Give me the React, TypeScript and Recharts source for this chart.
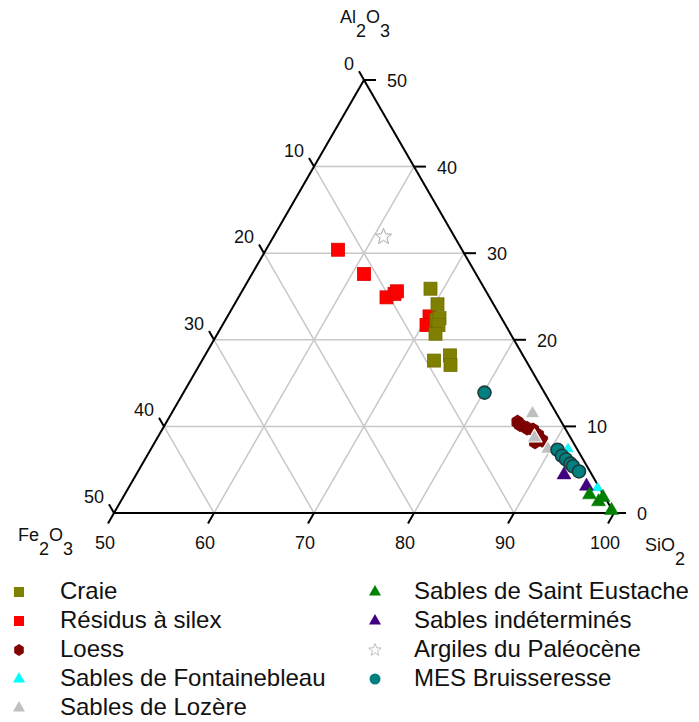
import React from "react";
import { ScatterChart, Scatter, XAxis, YAxis, ReferenceLine } from "recharts";

// ─── DATA ─────────────────────────────────────────────────────────────────────
// each point is [SiO2, Al2O3] in %, Fe2O3 is the remainder (100 - SiO2 - Al2O3)

const CRAIE = [
    [68.7, 25.9], [70.3, 24.1], [71.1, 22.3], [71.3, 22.5], [71.6, 21.7],
    [71.8, 20.7], [73.2, 17.6], [74.5, 18.2], [75.1, 17.1],
];
const RESIDUS = [
    [57.2, 30.4], [61.2, 27.6], [64.8, 24.9], [65.4, 25.3], [65.5, 25.6],
    [70.2, 22.7], [70.4, 21.7],
];
const LOESS = [
    [85.1, 10.5], [85.5, 10.2], [86.4, 9.8], [87.1, 9.6], [87.9, 9.0],
    [88.6, 8.4], [88.0, 8.2],
];
const FONTAINEBLEAU = [[91.7, 7.4], [96.9, 2.9]];
const LOZERE = [[86.1, 11.5], [87.7, 8.7], [89.7, 7.4]];
const SAINT_EUSTACHE = [[96.5, 2.1], [97.8, 1.3], [98.0, 1.8], [99.6, 0.3]];
const INDETERMINES = [[92.8, 4.4], [95.7, 3.1]];
const ARGILES = [[61.0, 31.9]];
const MES = [
    [80.1, 13.9], [90.7, 7.3], [91.5, 6.6], [92.1, 6.2], [92.8, 5.7],
    [93.2, 5.4], [94.1, 4.8],
];

const SIO2_TICKS = [50, 60, 70, 80, 90, 100];
const AL2O3_TICKS = [0, 10, 20, 30, 40, 50];
const FE2O3_TICKS = [0, 10, 20, 30, 40, 50];
const GRID_STEPS = [10, 20, 30, 40];

// ─── TERNARY PROJECTION ───────────────────────────────────────────────────────
// bottom-left = SiO2 50 / Fe2O3 50, bottom-right = SiO2 100, apex = Al2O3 50

const H = Math.sqrt(3) / 2;
const project = (sio2: number, al2o3: number) => ({ x: sio2 - 50 + al2o3 / 2, y: al2o3 * H });
const toRows = (pts: number[][]) =>
    pts.map(([s, a]) => ({ ...project(s, a), sio2: s, al2o3: a, fe2o3: +(100 - s - a).toFixed(1) }));

const FONT = "'Liberation Sans', Arial, Helvetica, sans-serif";

// ─── MARKERS ──────────────────────────────────────────────────────────────────

type Kind = "square" | "triangle" | "hexagon" | "circle" | "star";

function markerEl(kind: Kind, cx: number, cy: number, size: number, fill: string, stroke: string, sw: number) {
    const r = size / 2;
    if (kind === "square") {
        return <rect x={cx - r} y={cy - r} width={size} height={size} fill={fill} stroke={stroke} strokeWidth={sw} />;
    }
    if (kind === "circle") {
        return <circle cx={cx} cy={cy} r={r} fill={fill} stroke={stroke} strokeWidth={sw} />;
    }
    if (kind === "triangle") {
        const h = size * H;
        const pts = `${cx},${cy - (h * 2) / 3} ${cx - r},${cy + h / 3} ${cx + r},${cy + h / 3}`;
        return <polygon points={pts} fill={fill} stroke={stroke} strokeWidth={sw} strokeLinejoin="round" />;
    }
    if (kind === "hexagon") {
        const pts = [0, 1, 2, 3, 4, 5]
            .map((i) => {
                const ang = (Math.PI / 3) * i - Math.PI / 2;
                return `${cx + r * 0.92 * Math.cos(ang)},${cy + r * Math.sin(ang)}`;
            })
            .join(" ");
        return <polygon points={pts} fill={fill} stroke={stroke} strokeWidth={sw} />;
    }
    // star
    const pts = Array.from({ length: 10 }, (_, i) => {
        const rr = i % 2 === 0 ? r : r * 0.42;
        const ang = (Math.PI / 5) * i - Math.PI / 2;
        return `${cx + rr * Math.cos(ang)},${cy + rr * Math.sin(ang)}`;
    }).join(" ");
    return <polygon points={pts} fill={fill} stroke={stroke} strokeWidth={sw} strokeLinejoin="round" />;
}

interface SeriesDef {
    name: string;
    data: number[][];
    kind: Kind;
    fill: string;
    stroke: string;
    sw: number;
    size: number;
    legendSize: number;
}

const SERIES: Record<string, SeriesDef> = {
    craie: { name: "Craie", data: CRAIE, kind: "square", fill: "#808000", stroke: "#6e6e00", sw: 0.8, size: 13, legendSize: 10 },
    residus: { name: "Résidus à silex", data: RESIDUS, kind: "square", fill: "#ff0000", stroke: "#e00000", sw: 0.8, size: 13, legendSize: 10 },
    loess: { name: "Loess", data: LOESS, kind: "hexagon", fill: "#800000", stroke: "#6a0000", sw: 0.8, size: 14, legendSize: 12 },
    fontainebleau: { name: "Sables de Fontainebleau", data: FONTAINEBLEAU, kind: "triangle", fill: "#00ffff", stroke: "#00e0e0", sw: 0.5, size: 10, legendSize: 12 },
    lozere: { name: "Sables de Lozère", data: LOZERE, kind: "triangle", fill: "#c0c0c0", stroke: "#ffffff", sw: 1.2, size: 15, legendSize: 12 },
    eustache: { name: "Sables de Saint Eustache", data: SAINT_EUSTACHE, kind: "triangle", fill: "#008000", stroke: "#007000", sw: 0.5, size: 14, legendSize: 12 },
    indetermines: { name: "Sables indéterminés", data: INDETERMINES, kind: "triangle", fill: "#400080", stroke: "#350070", sw: 0.5, size: 14, legendSize: 12 },
    argiles: { name: "Argiles du Paléocène", data: ARGILES, kind: "star", fill: "#ffffff", stroke: "#a8a8a8", sw: 1, size: 17, legendSize: 13 },
    mes: { name: "MES Bruisseresse", data: MES, kind: "circle", fill: "#008080", stroke: "#1c3c3c", sw: 1.6, size: 13, legendSize: 11 },
};

const DRAW_ORDER = ["residus", "craie", "loess", "lozere", "fontainebleau", "indetermines", "eustache", "argiles", "mes"];
const LEGEND_COL1 = ["craie", "residus", "loess", "fontainebleau", "lozere"];
const LEGEND_COL2 = ["eustache", "indetermines", "argiles", "mes"];

// ─── GRID + AXES GEOMETRY ─────────────────────────────────────────────────────

const EDGES = [
    [project(50, 0), project(100, 0)],
    [project(50, 0), project(50, 50)],
    [project(100, 0), project(50, 50)],
];

const GRID = GRID_STEPS.flatMap((k) => [
    // constant Al2O3
    [project(50, k), project(100 - k, k)],
    // constant SiO2
    [project(50 + k, 0), project(50 + k, 50 - k)],
    // constant Fe2O3
    [project(50, 50 - k), project(100 - k, 0)],
]);

const TICKS = [
    ...SIO2_TICKS.map((s) => {
        const p = project(s, 0);
        return [p, { x: p.x - 0.6, y: p.y - 1.04 }];
    }),
    ...FE2O3_TICKS.map((f) => {
        const p = project(50, 50 - f);
        return [p, { x: p.x - 0.5, y: p.y + 0.87 }];
    }),
    ...AL2O3_TICKS.map((a) => {
        const p = project(100 - a, a);
        return [p, { x: p.x + 1.2, y: p.y }];
    }),
];

const BOTTOM_LABELS = SIO2_TICKS.map((s) => ({ ...project(s, 0), text: String(s) }));
const LEFT_LABELS = FE2O3_TICKS.map((f) => ({ ...project(50, 50 - f), text: String(f) }));
const RIGHT_LABELS = AL2O3_TICKS.map((a) => ({ ...project(100 - a, a), text: String(a) }));

const TITLES = [
    { ...project(50, 50), main1: "Al", sub1: "2", main2: "O", sub2: "3", dx: -24, dy: -57 },
    { ...project(50, 0), main1: "Fe", sub1: "2", main2: "O", sub2: "3", dx: -96, dy: 28 },
    { ...project(100, 0), main1: "SiO", sub1: "2", main2: "", sub2: "", dx: 31, dy: 38 },
];

function textShape(dx: number, dy: number, anchor: "start" | "middle" | "end") {
    return (p: any) => (
        <text x={p.cx + dx} y={p.cy + dy} textAnchor={anchor} fontSize={18} fontFamily={FONT} fill="#111">
            {p.payload.text}
        </text>
    );
}

function titleShape(p: any) {
    const t = p.payload;
    return (
        <text x={p.cx + t.dx} y={p.cy + t.dy} fontSize={18} fontFamily={FONT} fill="#111">
            {t.main1}
            <tspan dy={14}>{t.sub1}</tspan>
            {t.main2 ? <tspan dy={-14}>{t.main2}</tspan> : null}
            {t.sub2 ? <tspan dy={14}>{t.sub2}</tspan> : null}
        </text>
    );
}

// ─── LEGEND ───────────────────────────────────────────────────────────────────

function LegendColumn({ keys, markerX, textX }: { keys: string[]; markerX: number; textX: number }) {
    return (
        <>
            {keys.map((k, i) => {
                const s = SERIES[k];
                const cy = 592 + i * 29;
                return (
                    <React.Fragment key={k}>
                        <svg
                            width={20}
                            height={20}
                            style={{ position: "absolute", left: markerX - 10, top: cy - 10 }}
                        >
                            {markerEl(s.kind, 10, 10, s.legendSize, s.fill, s.kind === "star" ? "#b0b0b0" : s.fill, s.kind === "star" ? 0.8 : 0)}
                        </svg>
                        <div
                            style={{
                                position: "absolute", left: textX, top: cy - 15,
                                fontSize: 24, lineHeight: "28px", fontFamily: FONT, color: "#111", whiteSpace: "nowrap",
                            }}
                        >
                            {s.name}
                        </div>
                    </React.Fragment>
                );
            })}
        </>
    );
}

// ─── COMPONENT ────────────────────────────────────────────────────────────────

export default function App() {
    return (
        <div style={{ position: "absolute", left: 0, top: 0, width: 699, height: 722, background: "#fff", overflow: "hidden" }}>
            <ScatterChart width={699} height={722} margin={{ top: 0, right: 0, bottom: 0, left: 0 }}>
                <XAxis type="number" dataKey="x" domain={[-11.4, 58.5]} hide allowDataOverflow />
                <YAxis type="number" dataKey="y" domain={[-20.9, 51.3]} hide allowDataOverflow />

                {GRID.map((seg, i) => (
                    <ReferenceLine key={`g${i}`} segment={seg} stroke="#c8c8c8" strokeWidth={1.5} ifOverflow="visible" />
                ))}
                {EDGES.map((seg, i) => (
                    <ReferenceLine key={`e${i}`} segment={seg} stroke="#000" strokeWidth={2} ifOverflow="visible" />
                ))}
                {TICKS.map((seg, i) => (
                    <ReferenceLine key={`t${i}`} segment={seg} stroke="#000" strokeWidth={2} ifOverflow="visible" />
                ))}

                <Scatter data={BOTTOM_LABELS} shape={textShape(-9, 36, "middle")} isAnimationActive={false} />
                <Scatter data={LEFT_LABELS} shape={textShape(-10, -10, "end")} isAnimationActive={false} />
                <Scatter data={RIGHT_LABELS} shape={textShape(23, 7, "start")} isAnimationActive={false} />
                <Scatter data={TITLES} shape={titleShape} isAnimationActive={false} />

                {DRAW_ORDER.map((k) => {
                    const s = SERIES[k];
                    return (
                        <Scatter
                            key={k}
                            name={s.name}
                            data={toRows(s.data)}
                            isAnimationActive={false}
                            shape={(p: any) => markerEl(s.kind, p.cx, p.cy, s.size, s.fill, s.stroke, s.sw)}
                        />
                    );
                })}
            </ScatterChart>

            <LegendColumn keys={LEGEND_COL1} markerX={19} textX={60} />
            <LegendColumn keys={LEGEND_COL2} markerX={375} textX={414} />
        </div>
    );
}
